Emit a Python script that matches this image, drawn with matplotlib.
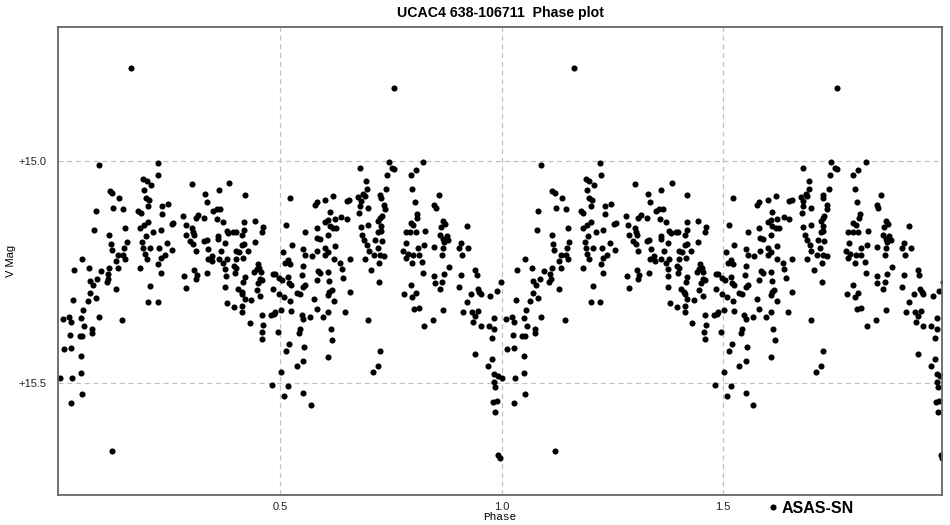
import matplotlib
matplotlib.use("Agg")
import matplotlib.pyplot as plt
import numpy as np
from matplotlib.lines import Line2D

star = "UCAC4 638-106711"
series = "ASAS-SN"

# one cycle of phased photometry (phase 0..1, V mag)
phase = [
    0.090, 0.223, 0.224, 0.191, 0.198, 0.209, 0.193, 0.115, 0.120, 0.136,
    0.197, 0.204, 0.083, 0.123, 0.145, 0.179, 0.185, 0.202, 0.233, 0.247,
    0.233, 0.080, 0.113, 0.149, 0.183, 0.193, 0.202, 0.213, 0.230, 0.196,
    0.188, 0.117, 0.119, 0.153, 0.148, 0.134, 0.145, 0.149, 0.130, 0.245,
    0.226, 0.191, 0.194, 0.198, 0.206, 0.230, 0.239, 0.053, 0.035, 0.068,
    0.095, 0.113, 0.134, 0.183, 0.224, 0.230, 0.070, 0.078, 0.087, 0.110,
    0.111, 0.108, 0.130, 0.070, 0.065, 0.083, 0.032, 0.055, 0.090, 0.143,
    0.010, 0.023, 0.027, 0.050, 0.057, 0.075, 0.075, 0.025, 0.047, 0.053,
    0.012, 0.027, 0.050, 0.002, 0.030, 0.050, 0.053, 0.027, 0.120, 0.206,
    0.202, 0.223, 0.163,
    0.301, 0.331, 0.361, 0.384, 0.420, 0.335, 0.349, 0.356, 0.364, 0.358,
    0.371, 0.281, 0.309, 0.315, 0.328, 0.255, 0.258, 0.286, 0.301, 0.303,
    0.288, 0.306, 0.296, 0.303, 0.328, 0.334, 0.360, 0.360, 0.379, 0.383,
    0.394, 0.399, 0.414, 0.419, 0.418, 0.443, 0.462, 0.459, 0.444, 0.375,
    0.414, 0.419, 0.256, 0.309, 0.337, 0.366, 0.400, 0.407, 0.428, 0.401,
    0.416, 0.336, 0.345, 0.346, 0.361, 0.371, 0.379, 0.375, 0.396, 0.401,
    0.398, 0.441, 0.447, 0.449, 0.452, 0.456, 0.454, 0.459, 0.450, 0.283,
    0.306, 0.311, 0.309, 0.334, 0.377, 0.420, 0.288, 0.375, 0.405, 0.413,
    0.414, 0.420, 0.434, 0.447, 0.455, 0.484, 0.484, 0.416, 0.380, 0.396,
    0.414, 0.414, 0.431, 0.459, 0.479, 0.486, 0.462, 0.458, 0.459, 0.482,
    0.745, 0.742, 0.680, 0.694, 0.695, 0.688, 0.676, 0.691, 0.682, 0.680,
    0.678, 0.699, 0.725, 0.727, 0.740, 0.522, 0.578, 0.582, 0.602, 0.620,
    0.650, 0.655, 0.612, 0.637, 0.650, 0.601, 0.608, 0.623, 0.612, 0.620,
    0.627, 0.608, 0.582, 0.514, 0.557, 0.682, 0.699, 0.735, 0.736, 0.729,
    0.725, 0.721, 0.727, 0.727, 0.721, 0.685, 0.690, 0.714, 0.729, 0.697,
    0.700, 0.720, 0.712, 0.725, 0.735, 0.723, 0.691, 0.705, 0.723, 0.526,
    0.507, 0.552, 0.556, 0.584, 0.584, 0.590, 0.602, 0.608, 0.601, 0.623,
    0.622, 0.635, 0.639, 0.642, 0.657, 0.571, 0.518, 0.511, 0.522, 0.488,
    0.497, 0.505, 0.518, 0.520, 0.524, 0.552, 0.550, 0.556, 0.552, 0.586,
    0.590, 0.608, 0.610, 0.582, 0.610, 0.608, 0.616, 0.622, 0.657, 0.537,
    0.544, 0.509, 0.522, 0.497, 0.577, 0.488, 0.502, 0.524, 0.548, 0.552,
    0.568, 0.582, 0.597, 0.608, 0.646, 0.699, 0.495, 0.544, 0.542, 0.520,
    0.514, 0.554, 0.614, 0.617, 0.608, 0.537, 0.552, 0.502, 0.725, 0.721,
    0.710, 0.518, 0.509, 0.552, 0.569, 0.757,
    0.823, 0.753, 0.758, 0.806, 0.795, 0.798, 0.804, 0.858, 0.848, 0.851,
    0.810, 0.808, 0.795, 0.800, 0.783, 0.793, 0.806, 0.828, 0.868, 0.872,
    0.863, 0.861, 0.868, 0.876, 0.880, 0.870, 0.921, 0.908, 0.904, 0.925,
    0.911, 0.848, 0.868, 0.866, 0.825, 0.812, 0.813, 0.800, 0.785, 0.778,
    0.788, 0.783, 0.798, 0.821, 0.881, 0.870, 0.823, 0.848, 0.849, 0.866,
    0.861, 0.908, 0.904, 0.941, 0.944, 0.946, 0.949, 0.953, 0.931, 0.974,
    0.989, 0.998, 0.921, 0.795, 0.780, 0.798, 0.806, 0.803, 0.813, 0.868,
    0.846, 0.825, 0.913, 0.934, 0.940, 0.936, 0.947, 0.953, 0.971, 0.983,
    0.983, 0.979, 0.940, 0.979, 0.970, 0.983, 0.991, 0.983, 0.985, 0.981,
    0.989, 0.985, 0.992, 0.996,
]
vmag = [
    15.009, 15.003, 15.032, 15.041, 15.045, 15.054, 15.064, 15.067, 15.072, 15.083,
    15.083, 15.087, 15.112, 15.105, 15.107, 15.112, 15.118, 15.101, 15.101, 15.096,
    15.120, 15.156, 15.166, 15.152, 15.150, 15.145, 15.137, 15.160, 15.156, 15.169,
    15.182, 15.188, 15.200, 15.182, 15.195, 15.211, 15.212, 15.220, 15.226, 15.184,
    15.196, 15.197, 15.209, 15.220, 15.196, 15.218, 15.211, 15.221, 15.246, 15.241,
    15.248, 15.242, 15.241, 15.242, 15.233, 15.252, 15.271, 15.279, 15.267, 15.254,
    15.265, 15.273, 15.289, 15.297, 15.316, 15.309, 15.313, 15.335, 15.352, 15.358,
    15.357, 15.353, 15.363, 15.355, 15.372, 15.380, 15.387, 15.393, 15.395, 15.395,
    15.425, 15.421, 15.440, 15.489, 15.489, 15.478, 15.526, 15.547, 15.655, 15.282,
    15.317, 15.317, 14.790,
    15.052, 15.075, 15.065, 15.049, 15.077, 15.092, 15.112, 15.108, 15.107, 15.131,
    15.137, 15.123, 15.128, 15.122, 15.128, 15.142, 15.140, 15.145, 15.152, 15.161,
    15.167, 15.167, 15.181, 15.186, 15.181, 15.178, 15.169, 15.176, 15.158, 15.163,
    15.161, 15.160, 15.166, 15.156, 15.137, 15.135, 15.148, 15.160, 15.182, 15.184,
    15.190, 15.186, 15.201, 15.203, 15.199, 15.203, 15.203, 15.206, 15.203, 15.220,
    15.218, 15.220, 15.214, 15.226, 15.221, 15.229, 15.220, 15.244, 15.236, 15.242,
    15.252, 15.250, 15.244, 15.233, 15.241, 15.250, 15.267, 15.269, 15.274, 15.259,
    15.246, 15.258, 15.267, 15.252, 15.259, 15.261, 15.286, 15.284, 15.288, 15.295,
    15.301, 15.312, 15.313, 15.290, 15.304, 15.254, 15.288, 15.273, 15.320, 15.329,
    15.327, 15.340, 15.365, 15.348, 15.348, 15.345, 15.370, 15.386, 15.401, 15.505,
    15.002, 15.032, 15.015, 15.044, 15.063, 15.075, 15.081, 15.078, 15.090, 15.101,
    15.117, 15.105, 15.077, 15.083, 15.063, 15.084, 15.098, 15.093, 15.087, 15.078,
    15.090, 15.087, 15.114, 15.126, 15.131, 15.137, 15.133, 15.131, 15.147, 15.151,
    15.151, 15.166, 15.150, 15.145, 15.161, 15.148, 15.145, 15.098, 15.107, 15.123,
    15.128, 15.136, 15.146, 15.158, 15.161, 15.167, 15.178, 15.178, 15.181, 15.190,
    15.203, 15.196, 15.212, 15.212, 15.214, 15.229, 15.221, 15.246, 15.273, 15.190,
    15.205, 15.199, 15.212, 15.203, 15.173, 15.176, 15.196, 15.205, 15.212, 15.191,
    15.220, 15.231, 15.244, 15.264, 15.221, 15.214, 15.224, 15.231, 15.233, 15.254,
    15.264, 15.269, 15.261, 15.274, 15.280, 15.236, 15.258, 15.279, 15.284, 15.248,
    15.252, 15.250, 15.271, 15.269, 15.295, 15.303, 15.291, 15.316, 15.295, 15.297,
    15.299, 15.306, 15.316, 15.300, 15.312, 15.340, 15.337, 15.338, 15.348, 15.357,
    15.352, 15.333, 15.352, 15.340, 15.340, 15.359, 15.386, 15.378, 15.387, 15.413,
    15.428, 15.419, 15.380, 15.403, 15.442, 15.462, 15.452, 15.476, 15.429, 15.462,
    15.476, 15.508, 15.530, 15.523, 15.550, 14.835,
    15.002, 15.015, 15.018, 15.020, 15.032, 15.062, 15.092, 15.077, 15.099, 15.105,
    15.120, 15.128, 15.139, 15.143, 15.160, 15.161, 15.160, 15.158, 15.136, 15.141,
    15.148, 15.167, 15.175, 15.169, 15.178, 15.182, 15.146, 15.184, 15.197, 15.196,
    15.211, 15.194, 15.196, 15.211, 15.190, 15.197, 15.211, 15.212, 15.184, 15.203,
    15.209, 15.218, 15.229, 15.227, 15.239, 15.254, 15.252, 15.259, 15.274, 15.273,
    15.289, 15.256, 15.284, 15.246, 15.258, 15.288, 15.295, 15.299, 15.301, 15.304,
    15.294, 15.273, 15.318, 15.280, 15.299, 15.306, 15.297, 15.334, 15.331, 15.337,
    15.359, 15.372, 15.340, 15.340, 15.349, 15.363, 15.338, 15.372, 15.372, 15.354,
    15.380, 15.399, 15.436, 15.446, 15.462, 15.480, 15.486, 15.498, 15.510, 15.545,
    15.542, 15.566, 15.663, 15.670,
]

xticks = [0.5, 1.0, 1.5]
yticks = [15.0, 15.5]
ytick_labels = ["+15.0", "+15.5"]

# phase plot shows two cycles, the second is the same points shifted by 1
ph = np.array(phase)
mag = np.array(vmag)
x = np.concatenate([ph, ph + 1.0])
y = np.concatenate([mag, mag])

plt.rcParams["font.family"] = ["Liberation Sans", "DejaVu Sans"]

fig = plt.figure(figsize=(9.5, 5.25), dpi=100)
ax = fig.add_axes([0.0611, 0.0571, 0.9305, 0.8914])

ax.plot(x, y, "o", color="black", ms=4.4, mew=0, label=series)

ax.set_xlim(-0.002, 1.995)
ax.set_ylim(15.754, 14.697)

ax.set_xticks(xticks)
ax.set_xticklabels([f"{t:.1f}" for t in xticks])
ax.set_yticks(yticks)
ax.set_yticklabels(ytick_labels)
ax.tick_params(length=0, labelsize=8, colors="#222222")
ax.tick_params(axis="y", pad=8.5)
ax.tick_params(axis="x", pad=5)

ax.grid(True, color="#c0c0c0", linestyle=(0, (4, 3)), linewidth=0.9)
ax.set_axisbelow(True)
for s in ax.spines.values():
    s.set_color("#666666")
    s.set_linewidth(1.3)

ax.set_title(f"{star}  Phase plot", fontsize=10.2, fontweight="bold", pad=7)
ax.set_xlabel("Phase", family="Liberation Mono", fontsize=8, labelpad=0)
ax.set_ylabel("V Mag", fontsize=8)
ax.yaxis.set_label_coords(-0.048, 0.5)

handle = Line2D([], [], marker="o", color="black", ls="none", ms=4.4, mew=0)
fig.legend([handle], [series], loc="center left",
           bbox_to_anchor=(0.800, 0.032), frameon=False,
           handlelength=0.6, handletextpad=0.25, borderpad=0,
           prop={"weight": "bold", "size": 11.5})

fig.savefig("out.png", dpi=100)
